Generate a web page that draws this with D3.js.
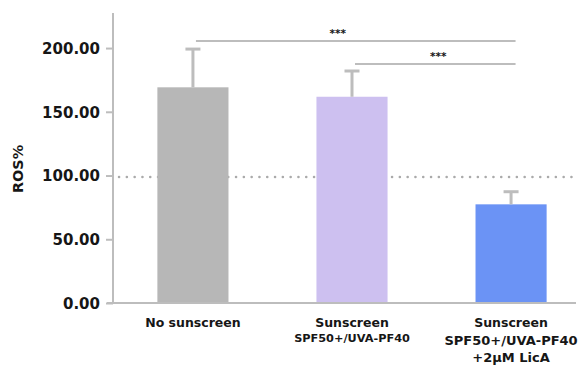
<!DOCTYPE html>
<html>
<head>
<meta charset="utf-8">
<script src="https://cdn.jsdelivr.net/npm/d3@7"></script>
<style>
  body { margin: 0; background: #fff; }
  svg text { font-family: "DejaVu Sans", sans-serif; font-weight: 700; fill: #161616; }
</style>
</head>
<body>
<svg id="chart" width="579" height="365"></svg>
<script>
const categories = ['No sunscreen', 'Sunscreen SPF50', 'Sunscreen LicA'];
const labelLines = [
  ['No sunscreen'],
  ['Sunscreen', 'SPF50+/UVA-PF40'],
  ['Sunscreen', 'SPF50+/UVA-PF40', '+2μM LicA']
];
const means = [169.2, 161.8, 77.4];
const errors = [30, 20.2, 9.9];
const colors = ['#b7b7b7', '#cdc0f0', '#6b93f5'];
const yTicks = [0, 50, 100, 150, 200];
const refLine = 100;
const sigPairs = [
  { from: 0, to: 2, level: 205.5, label: '***', shift: -18 },
  { from: 1, to: 2, level: 187.5, label: '***', shift: 3 }
];

const svg = d3.select('#chart');
const axisColor = '#bdbdbd';

const x = d3.scaleBand()
  .domain(categories)
  .range([113, 591])
  .paddingInner(0.553)
  .paddingOuter(0.279);

const y = d3.scaleLinear()
  .domain([0, 227.5])
  .range([303, 13]);

const cx = i => x(categories[i]) + x.bandwidth() / 2;

// dotted reference line
svg.append('line')
  .attr('x1', 119).attr('x2', 576)
  .attr('y1', y(refLine) + 1.5).attr('y2', y(refLine) + 1.5)
  .attr('stroke', '#aaaaaa')
  .attr('stroke-width', 2.5)
  .attr('stroke-linecap', 'round')
  .attr('stroke-dasharray', '0.1 7.7');

// bars
svg.append('g').selectAll('rect')
  .data(means)
  .join('rect')
  .attr('x', (d, i) => x(categories[i]))
  .attr('y', d => y(d))
  .attr('width', x.bandwidth())
  .attr('height', d => y(0) - y(d))
  .attr('fill', (d, i) => colors[i]);

// error bars
const eb = svg.append('g').attr('stroke', axisColor).attr('stroke-width', 3);
means.forEach((m, i) => {
  eb.append('line')
    .attr('x1', cx(i)).attr('x2', cx(i))
    .attr('y1', y(m)).attr('y2', y(m + errors[i]));
  eb.append('line')
    .attr('x1', cx(i) - 7.5).attr('x2', cx(i) + 7.5)
    .attr('y1', y(m + errors[i])).attr('y2', y(m + errors[i]));
});

// y axis
const yAxis = svg.append('g')
  .attr('transform', 'translate(113,0)')
  .call(d3.axisLeft(y).tickValues(yTicks).tickFormat(d3.format('.2f')).tickSize(7).tickPadding(6));
yAxis.select('.domain').remove();
yAxis.selectAll('.tick line').attr('stroke', axisColor).attr('stroke-width', 2);
yAxis.selectAll('.tick text').attr('font-size', 15).attr('fill', '#161616').attr('dy', '0.36em');
svg.append('line')
  .attr('x1', 113).attr('x2', 113)
  .attr('y1', y(227.5)).attr('y2', y(0))
  .attr('stroke', axisColor).attr('stroke-width', 2);

// x axis baseline
svg.append('line')
  .attr('x1', 107).attr('x2', 576)
  .attr('y1', y(0)).attr('y2', y(0))
  .attr('stroke', axisColor).attr('stroke-width', 2);

// y axis title
svg.append('text')
  .attr('transform', 'translate(23,169) rotate(-90)')
  .attr('text-anchor', 'middle')
  .attr('font-size', 14.4)
  .text('ROS%');

// category labels
labelLines.forEach((lines, i) => {
  const t = svg.append('text').attr('text-anchor', 'middle');
  lines.forEach((ln, j) => {
    const small = i === 1 && j === 1;
    t.append('tspan')
      .attr('x', cx(i))
      .attr('y', [326.5, small ? 342 : 345, 362][j])
      .attr('font-size', small ? 11.3 : (j === 0 ? 12.5 : 13))
      .text(ln);
  });
});

// significance brackets
sigPairs.forEach(p => {
  const x1 = cx(p.from) + 3;
  const x2 = cx(p.to) + 4.5;
  svg.append('line')
    .attr('x1', x1).attr('x2', x2)
    .attr('y1', y(p.level)).attr('y2', y(p.level))
    .attr('stroke', axisColor).attr('stroke-width', 2);
  svg.append('text')
    .attr('x', (x1 + x2) / 2 + p.shift)
    .attr('y', y(p.level) - 4)
    .attr('text-anchor', 'middle')
    .attr('font-size', 10.5)
    .text(p.label);
});
</script>
</body>
</html>
